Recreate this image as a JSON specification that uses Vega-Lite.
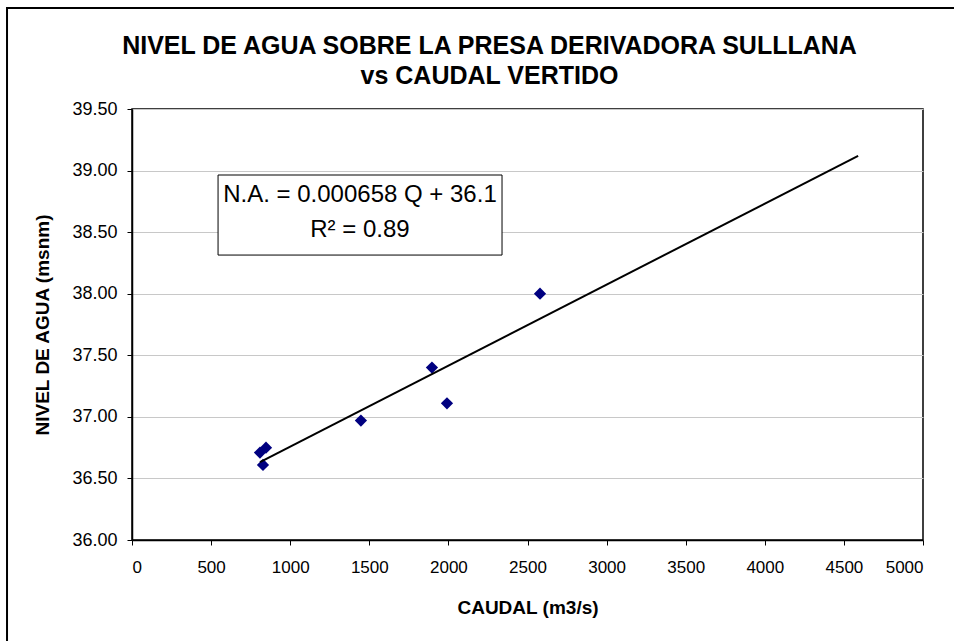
{
  "$schema": "https://vega.github.io/schema/vega-lite/v6.json",
  "width": 791,
  "height": 431,
  "autosize": {"type": "none"},
  "padding": {"left": 132, "top": 109, "right": 31, "bottom": 101},
  "background": "white",
  "title": {
    "text": ["NIVEL DE AGUA SOBRE LA PRESA DERIVADORA SULLLANA", "vs CAUDAL VERTIDO"],
    "anchor": "middle",
    "frame": "group",
    "dx": -38,
    "dy": 107,
    "offset": 0,
    "baseline": "bottom",
    "font": "Liberation Sans",
    "fontSize": 25,
    "fontWeight": "bold",
    "lineHeight": 30,
    "color": "black"
  },
  "config": {
    "view": {"stroke": "black", "strokeWidth": 1.5},
    "font": "Liberation Sans"
  },
  "datasets": {
    "points": [
      {"caudal": 2579, "nivel": 38.00},
      {"caudal": 1896, "nivel": 37.40},
      {"caudal": 1991, "nivel": 37.11},
      {"caudal": 1447, "nivel": 36.97},
      {"caudal": 809, "nivel": 36.71},
      {"caudal": 847, "nivel": 36.75},
      {"caudal": 828, "nivel": 36.61}
    ],
    "trend": [
      {"caudal": 809, "nivel": 36.632},
      {"caudal": 4590, "nivel": 39.120}
    ],
    "box": [
      {"x1": 544, "x2": 2339, "y1": 38.964, "y2": 38.314}
    ],
    "eq": [
      {"caudal": 1441, "nivel": 38.80, "label": "N.A. = 0.000658 Q + 36.1"},
      {"caudal": 1441, "nivel": 38.52, "label": "R² = 0.89"}
    ],
    "frame": [
      {"x1": -790, "x2": 5600, "y1": 40.32, "y2": 34.5}
    ]
  },
  "layer": [
    {
      "data": {"name": "frame"},
      "mark": {"type": "rect", "fill": null, "stroke": "black", "strokeWidth": 2, "clip": false},
      "encoding": {
        "x": {"field": "x1", "type": "quantitative", "scale": {"domain": [0, 5000], "nice": false, "zero": false}},
        "x2": {"field": "x2"},
        "y": {"field": "y1", "type": "quantitative", "scale": {"domain": [36, 39.5], "nice": false, "zero": false}},
        "y2": {"field": "y2"}
      }
    },
    {
      "data": {"name": "points"},
      "mark": {"type": "point", "shape": "diamond", "filled": true, "color": "#000080", "size": 150, "opacity": 1},
      "encoding": {
        "x": {
          "field": "caudal", "type": "quantitative",
          "scale": {"domain": [0, 5000], "nice": false, "zero": false},
          "axis": {
            "values": [0, 500, 1000, 1500, 2000, 2500, 3000, 3500, 4000, 4500, 5000],
            "format": "d",
            "grid": false,
            "domainColor": "black",
            "domainWidth": 1.5,
            "tickColor": "black",
            "tickSize": 5,
            "labelFontSize": 17,
            "labelColor": "black",
            "labelPadding": 14,
            "labelFont": "Liberation Sans Narrow, Liberation Sans",
            "title": "CAUDAL  (m3/s)",
            "titleFont": "Liberation Sans",
            "titleFontSize": 19,
            "titleFontWeight": "bold",
            "titleColor": "black",
            "titlePadding": 23
          }
        },
        "y": {
          "field": "nivel", "type": "quantitative",
          "scale": {"domain": [36, 39.5], "nice": false, "zero": false},
          "axis": {
            "values": [36, 36.5, 37, 37.5, 38, 38.5, 39, 39.5],
            "format": ".2f",
            "grid": true,
            "gridColor": "#c8c8c8",
            "gridWidth": 1.2,
            "domainColor": "black",
            "domainWidth": 1.5,
            "tickColor": "black",
            "tickSize": 5,
            "labelFontSize": 18,
            "labelColor": "black",
            "labelPadding": 10,
            "labelFont": "Liberation Sans",
            "title": "NIVEL DE AGUA  (msnm)",
            "titleFont": "Liberation Sans",
            "titleFontSize": 19,
            "titleFontWeight": "bold",
            "titleColor": "black",
            "titlePadding": 19
          }
        }
      }
    },
    {
      "data": {"name": "trend"},
      "mark": {"type": "line", "color": "black", "strokeWidth": 2},
      "encoding": {
        "x": {"field": "caudal", "type": "quantitative"},
        "y": {"field": "nivel", "type": "quantitative"}
      }
    },
    {
      "data": {"name": "box"},
      "mark": {"type": "rect", "fill": "white", "stroke": "black", "strokeWidth": 1},
      "encoding": {
        "x": {"field": "x1", "type": "quantitative"},
        "x2": {"field": "x2"},
        "y": {"field": "y1", "type": "quantitative"},
        "y2": {"field": "y2"}
      }
    },
    {
      "data": {"name": "eq"},
      "mark": {"type": "text", "fontSize": 24, "font": "Liberation Sans", "color": "black", "align": "center", "baseline": "middle"},
      "encoding": {
        "x": {"field": "caudal", "type": "quantitative"},
        "y": {"field": "nivel", "type": "quantitative"},
        "text": {"field": "label"}
      }
    }
  ]
}
